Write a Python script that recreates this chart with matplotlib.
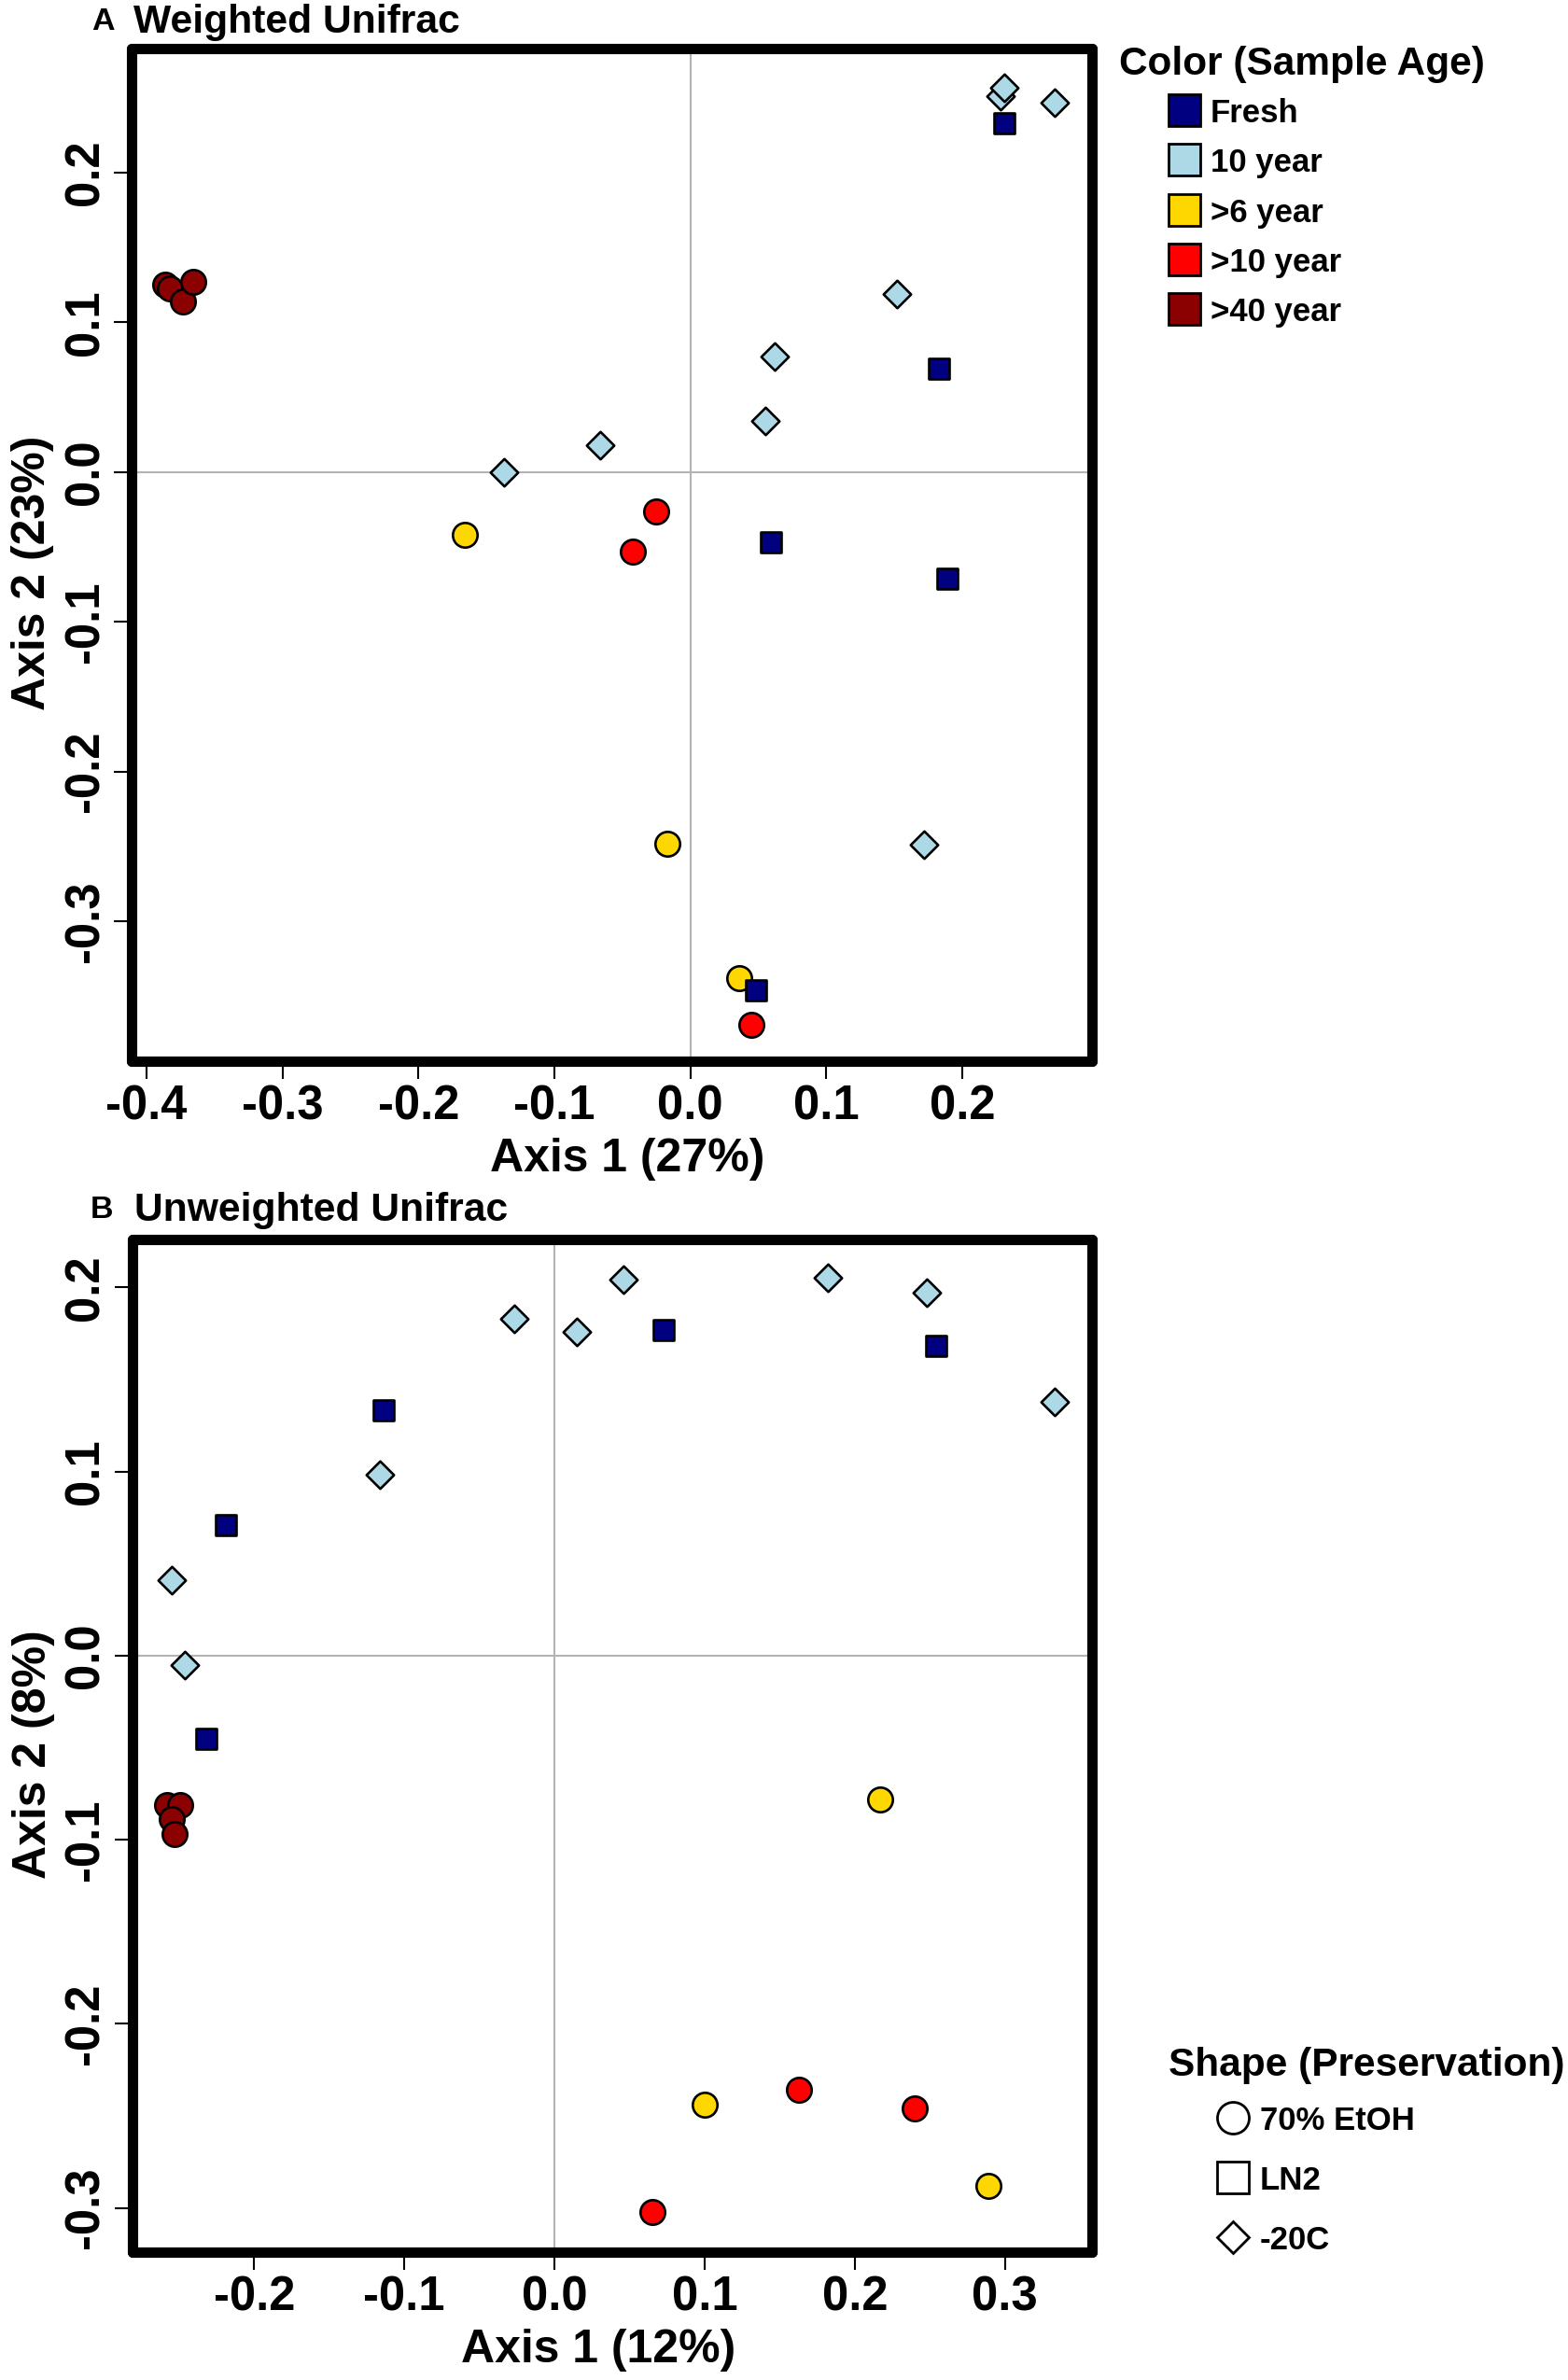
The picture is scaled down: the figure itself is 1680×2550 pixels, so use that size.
import matplotlib
matplotlib.use("Agg")
import matplotlib.pyplot as plt
from matplotlib.patches import Rectangle

plt.rcParams["font.family"] = ["Liberation Sans", "DejaVu Sans"]
plt.rcParams["font.weight"] = "bold"

# sample groups
edades = ["Fresh", "10 year", ">6 year", ">10 year", ">40 year"]
colores_edad = ["#000080", "#ADD8E6", "#FFD700", "#FF0000", "#8B0000"]
conservacion = ["70% EtOH", "LN2", "-20C"]
# preservation of each age group: index into conservacion
conservacion_edad = [1, 2, 0, 0, 0]

# Panel A: weighted unifrac
wu_x = [-0.386, -0.383, -0.373, -0.366,
        -0.166, -0.017, 0.036,
        -0.025, -0.042, 0.045,
        0.228, 0.231, 0.268, 0.152, 0.062, 0.055, -0.066, -0.137, 0.172,
        0.231, 0.183, 0.059, 0.189, 0.048]
wu_y = [0.125, 0.123, 0.114, 0.127,
        -0.042, -0.248, -0.338,
        -0.026, -0.053, -0.369,
        0.251, 0.257, 0.247, 0.119, 0.077, 0.034, 0.018, 0.000, -0.249,
        0.233, 0.069, -0.047, -0.071, -0.346]
wu_edad = [4, 4, 4, 4,
           2, 2, 2,
           3, 3, 3,
           1, 1, 1, 1, 1, 1, 1, 1, 1,
           0, 0, 0, 0, 0]

# Panel B: unweighted unifrac
uu_x = [-0.258, -0.249, -0.255, -0.253,
        0.217, 0.100, 0.289,
        0.163, 0.240, 0.065,
        -0.255, -0.246, -0.116, -0.027, 0.015, 0.046, 0.182, 0.248, 0.333,
        -0.219, -0.114, -0.232, 0.073, 0.254]
uu_y = [-0.081, -0.081, -0.089, -0.097,
        -0.078, -0.244, -0.288,
        -0.236, -0.246, -0.302,
        0.041, -0.005, 0.098, 0.183, 0.176, 0.204, 0.205, 0.197, 0.138,
        0.071, 0.133, -0.045, 0.177, 0.168]
uu_edad = [4, 4, 4, 4,
           2, 2, 2,
           3, 3, 3,
           1, 1, 1, 1, 1, 1, 1, 1, 1,
           0, 0, 0, 0, 0]

wu_xticks = [-0.4, -0.3, -0.2, -0.1, 0.0, 0.1, 0.2]
wu_yticks = [-0.3, -0.2, -0.1, 0.0, 0.1, 0.2]
uu_xticks = [-0.2, -0.1, 0.0, 0.1, 0.2, 0.3]
uu_yticks = [-0.3, -0.2, -0.1, 0.0, 0.1, 0.2]

marcadores = ["o", "s", "D"]
tam_marcador = [19, 15.5, 15]


def dibujar_panel(ax, xs, ys, grupos, xlim, ylim, xticks, yticks,
                  xlabel, ylabel, xlab_pos, ylab_pos):
    ax.axhline(0, color="#b4b4b4", lw=1.5, zorder=1)
    ax.axvline(0, color="#b4b4b4", lw=1.5, zorder=1)
    for x, y, g in zip(xs, ys, grupos):
        m = conservacion_edad[g]
        ax.scatter([x], [y], marker=marcadores[m], s=tam_marcador[m] ** 2,
                   c=colores_edad[g], edgecolors="black", linewidths=1.9,
                   zorder=3)
    ax.set_xlim(*xlim)
    ax.set_ylim(*ylim)
    ax.set_xticks(xticks)
    ax.set_yticks(yticks)
    ax.set_xticklabels([f"{t:.1f}" for t in xticks])
    ax.set_yticklabels([f"{t:.1f}" for t in yticks])
    ax.tick_params(direction="out", length=14, width=1.5, labelsize=36.5, pad=4)
    ax.tick_params(axis="y", labelrotation=90)
    for lab in ax.get_yticklabels():
        lab.set_va("center")
    for sp in ax.spines.values():
        sp.set_linewidth(8)
        sp.set_capstyle("round")
    ax.set_xlabel(xlabel, fontsize=36, fontweight="bold")
    ax.set_ylabel(ylabel, fontsize=36, fontweight="bold")
    ax.xaxis.set_label_coords(xlab_pos, -0.076)
    ax.yaxis.set_label_coords(-0.081, ylab_pos)


fig = plt.figure(figsize=(16.81, 25.5), dpi=100)

ax_a = fig.add_axes([0.08388, 0.55412, 0.61214, 0.42549])
dibujar_panel(ax_a, wu_x, wu_y, wu_edad, (-0.411, 0.2955), (-0.3935, 0.283),
              wu_xticks, wu_yticks, "Axis 1 (27%)", "Axis 2 (23%)", 0.516, 0.482)

ax_b = fig.add_axes([0.08447, 0.05373, 0.61154, 0.42549])
dibujar_panel(ax_b, uu_x, uu_y, uu_edad, (-0.281, 0.358), (-0.324, 0.226),
              uu_xticks, uu_yticks, "Axis 1 (12%)", "Axis 2 (8%)", 0.486, 0.492)

# overlay in pixel coordinates for titles and legends
capa = fig.add_axes([0, 0, 1, 1], zorder=5)
capa.set_xlim(0, 1681)
capa.set_ylim(2550, 0)
capa.axis("off")

capa.text(98, 32, "A", fontsize=24.5, fontweight="bold")
capa.text(143, 35, "Weighted Unifrac", fontsize=30.7, fontweight="bold")
capa.text(97, 1305, "B", fontsize=24.5, fontweight="bold")
capa.text(144, 1308, "Unweighted Unifrac", fontsize=30.7, fontweight="bold")

# color legend
capa.text(1199, 80, "Color (Sample Age)", fontsize=30.5, fontweight="bold")
for i, (nombre, col) in enumerate(zip(edades, colores_edad)):
    yc = 118 + i * 53.3
    capa.add_patch(Rectangle((1252, yc - 17), 34, 34, facecolor=col,
                             edgecolor="black", lw=2))
    capa.text(1297, yc + 13, nombre, fontsize=25, fontweight="bold")

# shape legend
capa.text(1252, 2224, "Shape (Preservation)", fontsize=30.5, fontweight="bold")
tam_leyenda = [24.5, 24.5, 17.8]
for i, nombre in enumerate(conservacion):
    yc = 2269 + i * 64
    capa.plot([1321], [yc], marker=marcadores[i], ms=tam_leyenda[i],
              mfc="white", mec="black", mew=2, ls="none")
    capa.text(1350, yc + 13, nombre, fontsize=25, fontweight="bold")

fig.savefig("out.png", dpi=100)
